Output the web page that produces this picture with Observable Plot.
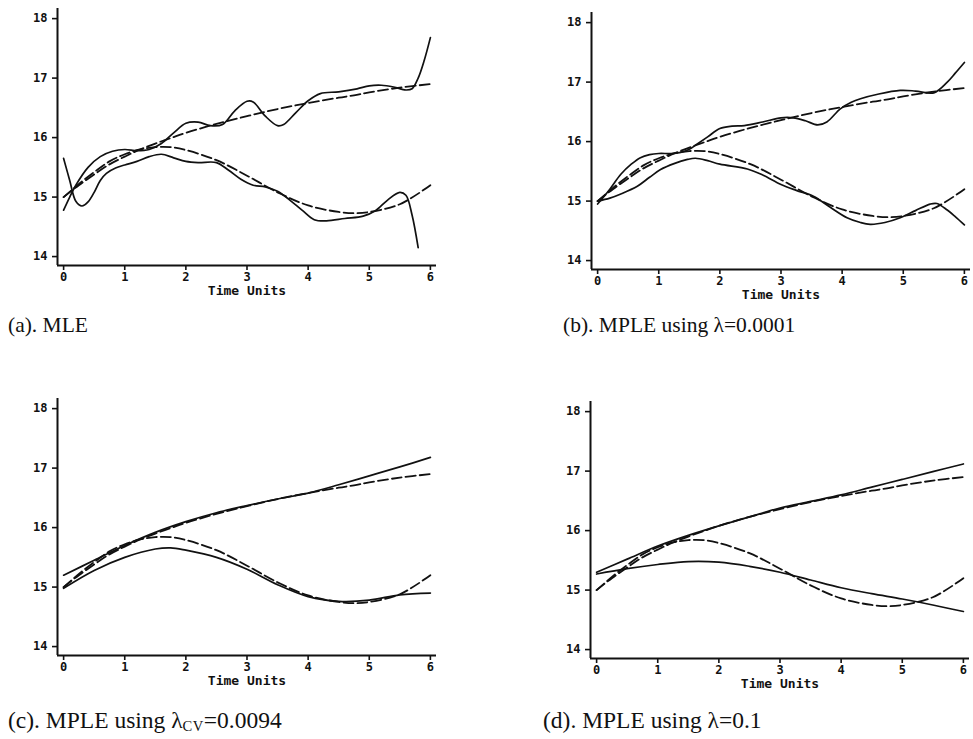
<!DOCTYPE html>
<html><head><meta charset="utf-8">
<script src="https://cdn.jsdelivr.net/npm/d3@7"></script>
<script src="https://cdn.jsdelivr.net/npm/@observablehq/plot@0.6"></script>
<style>
body{margin:0;background:#fff;}
#wrap{position:relative;width:973px;height:739px;overflow:hidden;background:#fff;}
.panel{position:absolute;}
.cap{position:absolute;font-family:"Liberation Serif","Times New Roman",serif;line-height:1;color:#111;white-space:nowrap;}
.cap sub{font-size:0.62em;vertical-align:-0.18em;letter-spacing:0.5px;}
</style></head><body><div id="wrap"></div>
<script>
// shared true curves (dashed)
const trueT = [0,0.25,0.5,0.75,1,1.25,1.5,1.75,2,2.5,3,3.5,4,4.5,4.75,5,5.5,6];
const trueUpper = [15.0,15.2,15.38,15.55,15.68,15.8,15.9,15.99,16.08,16.23,16.36,16.48,16.58,16.67,16.71,16.76,16.84,16.9];
const trueLower = [15.0,15.22,15.42,15.6,15.72,15.8,15.84,15.84,15.79,15.62,15.36,15.08,14.86,14.75,14.73,14.75,14.88,15.2];

// (a) MLE
const aUpperT = [0,0.1,0.2,0.4,0.6,0.8,1.0,1.2,1.4,1.6,1.8,2.0,2.2,2.4,2.6,2.8,3.0,3.1,3.3,3.5,3.6,3.8,4.0,4.2,4.5,4.8,5.0,5.2,5.4,5.6,5.7,5.8,5.9,6.0];
const aUpper = [14.78,15.0,15.2,15.5,15.68,15.77,15.8,15.78,15.8,15.9,16.08,16.24,16.26,16.2,16.22,16.45,16.61,16.6,16.36,16.2,16.22,16.42,16.62,16.74,16.77,16.82,16.87,16.88,16.85,16.8,16.82,17.0,17.3,17.68];
const aLowerT = [0,0.1,0.2,0.3,0.4,0.5,0.6,0.7,0.85,1.0,1.2,1.4,1.6,1.8,2.0,2.2,2.5,2.7,2.9,3.1,3.3,3.5,3.7,3.9,4.1,4.3,4.6,4.9,5.1,5.3,5.5,5.6,5.7,5.8];
const aLower = [15.65,15.28,14.93,14.85,14.92,15.08,15.28,15.4,15.49,15.54,15.6,15.68,15.72,15.66,15.6,15.58,15.58,15.45,15.3,15.2,15.17,15.1,14.95,14.78,14.62,14.6,14.64,14.68,14.77,14.95,15.08,15.03,14.7,14.15];

// (b) MPLE lambda = 0.0001
const bUpperT = [0,0.2,0.38,0.55,0.7,0.85,1.0,1.2,1.36,1.5,1.63,1.8,2.0,2.2,2.4,2.7,3.0,3.2,3.4,3.6,3.75,3.97,4.15,4.3,4.6,4.95,5.2,5.5,5.72,5.85,6.0];
const bUpper = [14.95,15.2,15.45,15.62,15.73,15.78,15.8,15.8,15.82,15.87,15.96,16.08,16.22,16.26,16.27,16.33,16.4,16.4,16.35,16.28,16.33,16.55,16.66,16.72,16.8,16.86,16.85,16.82,17.0,17.15,17.33];
const bLowerT = [0,0.2,0.38,0.65,0.85,1.03,1.25,1.47,1.6,1.8,2.0,2.45,2.7,3.0,3.25,3.53,3.8,4.08,4.3,4.46,4.7,4.95,5.2,5.44,5.55,5.72,5.85,6.0];
const bLower = [15.0,15.05,15.12,15.25,15.4,15.53,15.63,15.7,15.72,15.68,15.62,15.54,15.44,15.28,15.18,15.08,14.9,14.72,14.64,14.61,14.64,14.72,14.84,14.95,14.96,14.85,14.74,14.6];

// (c) MPLE lambda_CV = 0.0094
const cT = [0,0.5,1,1.5,2,2.5,3,3.5,4,4.5,5,5.5,6];
const cUpper = [15.2,15.45,15.7,15.92,16.1,16.25,16.37,16.48,16.58,16.72,16.87,17.02,17.18];
const cLowerT = [0,0.5,1,1.5,1.75,2,2.5,3,3.5,4,4.5,5,5.5,6];
const cLower = [14.98,15.28,15.5,15.64,15.66,15.62,15.5,15.3,15.04,14.84,14.76,14.78,14.87,14.9];

// (d) MPLE lambda = 0.1
const dT = [0,0.5,1,1.5,2,2.5,3,3.5,4,4.5,5,5.5,6];
const dUpper = [15.3,15.52,15.74,15.92,16.08,16.23,16.38,16.49,16.6,16.73,16.86,16.99,17.12];
const dLower = [15.27,15.36,15.43,15.48,15.47,15.4,15.3,15.17,15.04,14.94,14.85,14.75,14.64];

const xTicks = [0,1,2,3,4,5,6];
const yTicks = [14,15,16,17,18];
const xDomain = [-0.1, 6.1];
const yDomain = [13.85, 18.17];
const xLabel = "Time Units";

const captions = [
  {html: "(a). MLE", left: 8, top: 315, size: 21.5},
  {html: "(b). MPLE using λ=0.0001", left: 563, top: 315, size: 21.5},
  {html: "(c). MPLE using λ<sub>CV</sub>=0.0094", left: 8, top: 709, size: 23.5},
  {html: "(d). MPLE using λ=0.1", left: 543, top: 709, size: 23.5}
];

const pts = (T, V) => T.map((t, i) => ({t, v: V[i]}));

function panel(upT, upV, loT, loV) {
  const ink = "#111";
  return Plot.plot({
    width: 436, height: 300,
    marginLeft: 57, marginRight: 0, marginTop: 8, marginBottom: 35,
    x: {domain: xDomain},
    y: {domain: yDomain},
    style: {fontFamily: "'DejaVu Sans Mono', monospace", background: "transparent", overflow: "visible", color: ink},
    marks: [
      Plot.axisY({ticks: yTicks, tickFormat: d => String(d), tickSize: 5, tickPadding: 5, fontSize: 12, fontWeight: "bold", label: null, strokeWidth: 1.6}),
      Plot.axisX({ticks: xTicks, tickFormat: d => String(d), tickSize: 5, tickPadding: 2, fontSize: 12, fontWeight: "bold", label: null, strokeWidth: 1.6}),
      Plot.ruleX([xDomain[0]], {stroke: ink, strokeWidth: 2}),
      Plot.ruleY([yDomain[0]], {stroke: ink, strokeWidth: 2}),
      Plot.text([xLabel], {frameAnchor: "bottom", lineAnchor: "bottom", dy: 29, fontSize: 13, fontWeight: "bold", fill: ink}),
      Plot.line(pts(trueT, trueUpper), {x: "t", y: "v", stroke: ink, strokeWidth: 1.8, strokeDasharray: "10,4", curve: "catmull-rom"}),
      Plot.line(pts(trueT, trueLower), {x: "t", y: "v", stroke: ink, strokeWidth: 1.8, strokeDasharray: "10,4", curve: "catmull-rom"}),
      Plot.line(pts(upT, upV), {x: "t", y: "v", stroke: ink, strokeWidth: 1.7, curve: "catmull-rom"}),
      Plot.line(pts(loT, loV), {x: "t", y: "v", stroke: ink, strokeWidth: 1.7, curve: "catmull-rom"})
    ]
  });
}

const wrap = document.getElementById("wrap");
const layout = [
  {left: 0, top: 0, args: [aUpperT, aUpper, aLowerT, aLower]},
  {left: 534, top: 4, args: [bUpperT, bUpper, bLowerT, bLower]},
  {left: 0, top: 390, args: [cT, cUpper, cLowerT, cLower]},
  {left: 533, top: 393, args: [dT, dUpper, dT, dLower]}
];
for (const p of layout) {
  const div = document.createElement("div");
  div.className = "panel";
  div.style.left = p.left + "px";
  div.style.top = p.top + "px";
  div.appendChild(panel(...p.args));
  wrap.appendChild(div);
}
for (const c of captions) {
  const d = document.createElement("div");
  d.className = "cap";
  d.style.left = c.left + "px";
  d.style.top = c.top + "px";
  d.style.fontSize = c.size + "px";
  d.innerHTML = c.html;
  wrap.appendChild(d);
}
</script>
</body></html>
